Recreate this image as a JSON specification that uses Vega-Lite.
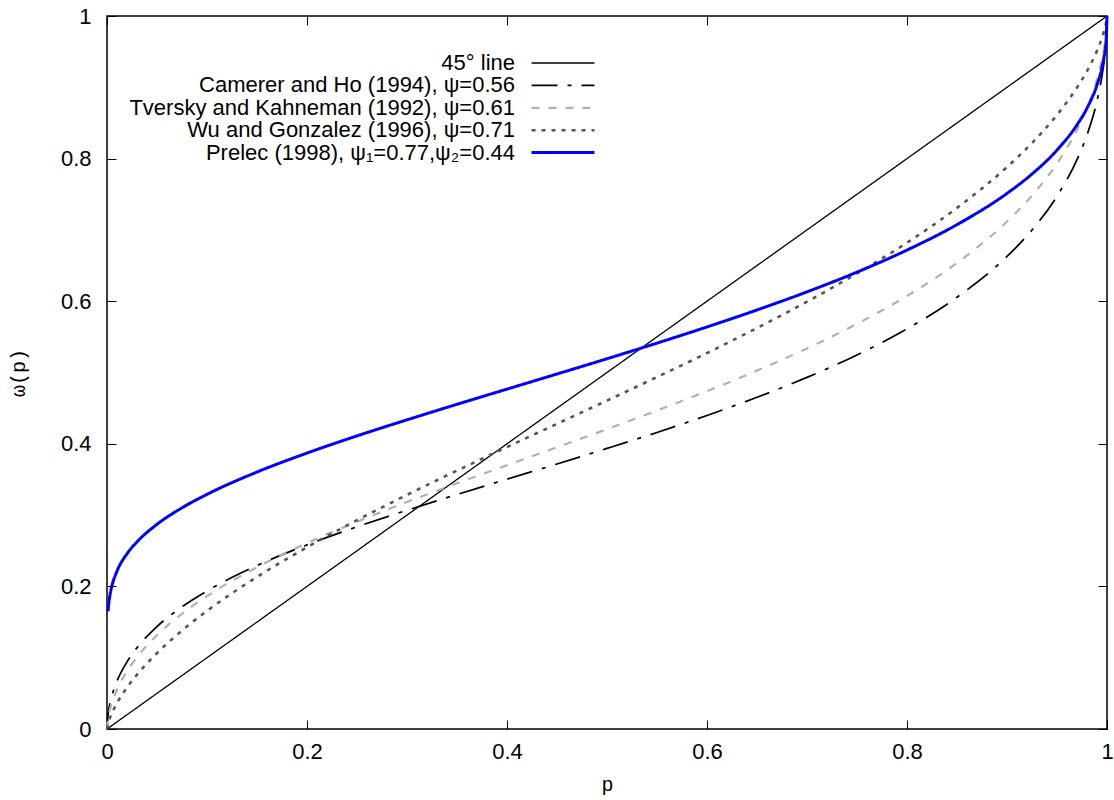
{
  "$schema": "https://vega.github.io/schema/vega-lite/v6.json",
  "width": 1000,
  "height": 713,
  "autosize": "none",
  "padding": {"left": 107, "top": 16, "right": 7, "bottom": 71},
  "background": "white",
  "config": {
    "view": {"stroke": "black", "strokeWidth": 1.5},
    "axis": {
      "domain": false, "grid": false, "tickColor": "black", "tickSize": -9, "tickWidth": 1, "labelFlush": false,
      "labelFont": "Liberation Sans", "labelFontSize": 22, "labelColor": "black",
      "titleFont": "Liberation Mono", "titleFontSize": 20, "titleFontWeight": "normal", "titleColor": "black"
    },
    "legend": {
      "orient": "none", "legendX": 445, "legendY": 36, "padding": 0,
      "symbolType": "M-6,0H6", "symbolSize": 110, "labelAlign": "right", "labelOffset": -59,
      "labelFont": "Liberation Sans", "labelFontSize": 22, "labelColor": "black", "labelLimit": 0,
      "rowPadding": 0.4, "title": null
    }
  },
  "data": {"values": [
    {"s": "45° line", "p": 0, "w": 0},
    {"s": "45° line", "p": 1, "w": 1},
    {"s": "Camerer and Ho (1994), ψ=0.56", "p": 0, "w": 0},
    {"s": "Camerer and Ho (1994), ψ=0.56", "p": 0.001, "w": 0.0202},
    {"s": "Camerer and Ho (1994), ψ=0.56", "p": 0.002, "w": 0.0292},
    {"s": "Camerer and Ho (1994), ψ=0.56", "p": 0.003, "w": 0.0362},
    {"s": "Camerer and Ho (1994), ψ=0.56", "p": 0.005, "w": 0.0473},
    {"s": "Camerer and Ho (1994), ψ=0.56", "p": 0.01, "w": 0.0672},
    {"s": "Camerer and Ho (1994), ψ=0.56", "p": 0.02, "w": 0.0942},
    {"s": "Camerer and Ho (1994), ψ=0.56", "p": 0.03, "w": 0.1140},
    {"s": "Camerer and Ho (1994), ψ=0.56", "p": 0.05, "w": 0.1437},
    {"s": "Camerer and Ho (1994), ψ=0.56", "p": 0.075, "w": 0.1714},
    {"s": "Camerer and Ho (1994), ψ=0.56", "p": 0.1, "w": 0.1936},
    {"s": "Camerer and Ho (1994), ψ=0.56", "p": 0.15, "w": 0.2292},
    {"s": "Camerer and Ho (1994), ψ=0.56", "p": 0.2, "w": 0.2582},
    {"s": "Camerer and Ho (1994), ψ=0.56", "p": 0.25, "w": 0.2836},
    {"s": "Camerer and Ho (1994), ψ=0.56", "p": 0.3, "w": 0.3068},
    {"s": "Camerer and Ho (1994), ψ=0.56", "p": 0.35, "w": 0.3289},
    {"s": "Camerer and Ho (1994), ψ=0.56", "p": 0.4, "w": 0.3504},
    {"s": "Camerer and Ho (1994), ψ=0.56", "p": 0.45, "w": 0.3717},
    {"s": "Camerer and Ho (1994), ψ=0.56", "p": 0.5, "w": 0.3935},
    {"s": "Camerer and Ho (1994), ψ=0.56", "p": 0.55, "w": 0.4159},
    {"s": "Camerer and Ho (1994), ψ=0.56", "p": 0.6, "w": 0.4397},
    {"s": "Camerer and Ho (1994), ψ=0.56", "p": 0.65, "w": 0.4652},
    {"s": "Camerer and Ho (1994), ψ=0.56", "p": 0.7, "w": 0.4931},
    {"s": "Camerer and Ho (1994), ψ=0.56", "p": 0.75, "w": 0.5246},
    {"s": "Camerer and Ho (1994), ψ=0.56", "p": 0.8, "w": 0.5612},
    {"s": "Camerer and Ho (1994), ψ=0.56", "p": 0.85, "w": 0.6055},
    {"s": "Camerer and Ho (1994), ψ=0.56", "p": 0.9, "w": 0.6628},
    {"s": "Camerer and Ho (1994), ψ=0.56", "p": 0.925, "w": 0.6999},
    {"s": "Camerer and Ho (1994), ψ=0.56", "p": 0.95, "w": 0.7472},
    {"s": "Camerer and Ho (1994), ψ=0.56", "p": 0.97, "w": 0.7986},
    {"s": "Camerer and Ho (1994), ψ=0.56", "p": 0.98, "w": 0.8332},
    {"s": "Camerer and Ho (1994), ψ=0.56", "p": 0.99, "w": 0.8809},
    {"s": "Camerer and Ho (1994), ψ=0.56", "p": 0.995, "w": 0.9161},
    {"s": "Camerer and Ho (1994), ψ=0.56", "p": 0.997, "w": 0.9356},
    {"s": "Camerer and Ho (1994), ψ=0.56", "p": 0.999, "w": 0.9642},
    {"s": "Camerer and Ho (1994), ψ=0.56", "p": 1, "w": 1},
    {"s": "Tversky and Kahneman (1992), ψ=0.61", "p": 0, "w": 0},
    {"s": "Tversky and Kahneman (1992), ψ=0.61", "p": 0.001, "w": 0.0145},
    {"s": "Tversky and Kahneman (1992), ψ=0.61", "p": 0.002, "w": 0.0218},
    {"s": "Tversky and Kahneman (1992), ψ=0.61", "p": 0.003, "w": 0.0277},
    {"s": "Tversky and Kahneman (1992), ψ=0.61", "p": 0.005, "w": 0.0372},
    {"s": "Tversky and Kahneman (1992), ψ=0.61", "p": 0.01, "w": 0.0553},
    {"s": "Tversky and Kahneman (1992), ψ=0.61", "p": 0.02, "w": 0.0811},
    {"s": "Tversky and Kahneman (1992), ψ=0.61", "p": 0.03, "w": 0.1008},
    {"s": "Tversky and Kahneman (1992), ψ=0.61", "p": 0.05, "w": 0.1316},
    {"s": "Tversky and Kahneman (1992), ψ=0.61", "p": 0.075, "w": 0.1616},
    {"s": "Tversky and Kahneman (1992), ψ=0.61", "p": 0.1, "w": 0.1863},
    {"s": "Tversky and Kahneman (1992), ψ=0.61", "p": 0.15, "w": 0.2269},
    {"s": "Tversky and Kahneman (1992), ψ=0.61", "p": 0.2, "w": 0.2608},
    {"s": "Tversky and Kahneman (1992), ψ=0.61", "p": 0.25, "w": 0.2907},
    {"s": "Tversky and Kahneman (1992), ψ=0.61", "p": 0.3, "w": 0.3184},
    {"s": "Tversky and Kahneman (1992), ψ=0.61", "p": 0.35, "w": 0.3446},
    {"s": "Tversky and Kahneman (1992), ψ=0.61", "p": 0.4, "w": 0.3700},
    {"s": "Tversky and Kahneman (1992), ψ=0.61", "p": 0.45, "w": 0.3952},
    {"s": "Tversky and Kahneman (1992), ψ=0.61", "p": 0.5, "w": 0.4206},
    {"s": "Tversky and Kahneman (1992), ψ=0.61", "p": 0.55, "w": 0.4467},
    {"s": "Tversky and Kahneman (1992), ψ=0.61", "p": 0.6, "w": 0.4739},
    {"s": "Tversky and Kahneman (1992), ψ=0.61", "p": 0.65, "w": 0.5027},
    {"s": "Tversky and Kahneman (1992), ψ=0.61", "p": 0.7, "w": 0.5338},
    {"s": "Tversky and Kahneman (1992), ψ=0.61", "p": 0.75, "w": 0.5683},
    {"s": "Tversky and Kahneman (1992), ψ=0.61", "p": 0.8, "w": 0.6074},
    {"s": "Tversky and Kahneman (1992), ψ=0.61", "p": 0.85, "w": 0.6537},
    {"s": "Tversky and Kahneman (1992), ψ=0.61", "p": 0.9, "w": 0.7117},
    {"s": "Tversky and Kahneman (1992), ψ=0.61", "p": 0.925, "w": 0.7481},
    {"s": "Tversky and Kahneman (1992), ψ=0.61", "p": 0.95, "w": 0.7932},
    {"s": "Tversky and Kahneman (1992), ψ=0.61", "p": 0.97, "w": 0.8404},
    {"s": "Tversky and Kahneman (1992), ψ=0.61", "p": 0.98, "w": 0.8710},
    {"s": "Tversky and Kahneman (1992), ψ=0.61", "p": 0.99, "w": 0.9116},
    {"s": "Tversky and Kahneman (1992), ψ=0.61", "p": 0.995, "w": 0.9402},
    {"s": "Tversky and Kahneman (1992), ψ=0.61", "p": 0.997, "w": 0.9554},
    {"s": "Tversky and Kahneman (1992), ψ=0.61", "p": 0.999, "w": 0.9766},
    {"s": "Tversky and Kahneman (1992), ψ=0.61", "p": 1, "w": 1},
    {"s": "Wu and Gonzalez (1996), ψ=0.71", "p": 0, "w": 0},
    {"s": "Wu and Gonzalez (1996), ψ=0.71", "p": 0.001, "w": 0.0073},
    {"s": "Wu and Gonzalez (1996), ψ=0.71", "p": 0.002, "w": 0.0119},
    {"s": "Wu and Gonzalez (1996), ψ=0.71", "p": 0.003, "w": 0.0159},
    {"s": "Wu and Gonzalez (1996), ψ=0.71", "p": 0.005, "w": 0.0226},
    {"s": "Wu and Gonzalez (1996), ψ=0.71", "p": 0.01, "w": 0.0364},
    {"s": "Wu and Gonzalez (1996), ψ=0.71", "p": 0.02, "w": 0.0582},
    {"s": "Wu and Gonzalez (1996), ψ=0.71", "p": 0.03, "w": 0.0762},
    {"s": "Wu and Gonzalez (1996), ψ=0.71", "p": 0.05, "w": 0.1065},
    {"s": "Wu and Gonzalez (1996), ψ=0.71", "p": 0.075, "w": 0.1381},
    {"s": "Wu and Gonzalez (1996), ψ=0.71", "p": 0.1, "w": 0.1656},
    {"s": "Wu and Gonzalez (1996), ψ=0.71", "p": 0.15, "w": 0.2133},
    {"s": "Wu and Gonzalez (1996), ψ=0.71", "p": 0.2, "w": 0.2549},
    {"s": "Wu and Gonzalez (1996), ψ=0.71", "p": 0.25, "w": 0.2929},
    {"s": "Wu and Gonzalez (1996), ψ=0.71", "p": 0.3, "w": 0.3284},
    {"s": "Wu and Gonzalez (1996), ψ=0.71", "p": 0.35, "w": 0.3624},
    {"s": "Wu and Gonzalez (1996), ψ=0.71", "p": 0.4, "w": 0.3954},
    {"s": "Wu and Gonzalez (1996), ψ=0.71", "p": 0.45, "w": 0.4280},
    {"s": "Wu and Gonzalez (1996), ψ=0.71", "p": 0.5, "w": 0.4606},
    {"s": "Wu and Gonzalez (1996), ψ=0.71", "p": 0.55, "w": 0.4936},
    {"s": "Wu and Gonzalez (1996), ψ=0.71", "p": 0.6, "w": 0.5273},
    {"s": "Wu and Gonzalez (1996), ψ=0.71", "p": 0.65, "w": 0.5624},
    {"s": "Wu and Gonzalez (1996), ψ=0.71", "p": 0.7, "w": 0.5993},
    {"s": "Wu and Gonzalez (1996), ψ=0.71", "p": 0.75, "w": 0.6389},
    {"s": "Wu and Gonzalez (1996), ψ=0.71", "p": 0.8, "w": 0.6821},
    {"s": "Wu and Gonzalez (1996), ψ=0.71", "p": 0.85, "w": 0.7309},
    {"s": "Wu and Gonzalez (1996), ψ=0.71", "p": 0.9, "w": 0.7881},
    {"s": "Wu and Gonzalez (1996), ψ=0.71", "p": 0.925, "w": 0.8219},
    {"s": "Wu and Gonzalez (1996), ψ=0.71", "p": 0.95, "w": 0.8613},
    {"s": "Wu and Gonzalez (1996), ψ=0.71", "p": 0.97, "w": 0.8997},
    {"s": "Wu and Gonzalez (1996), ψ=0.71", "p": 0.98, "w": 0.9228},
    {"s": "Wu and Gonzalez (1996), ψ=0.71", "p": 0.99, "w": 0.9512},
    {"s": "Wu and Gonzalez (1996), ψ=0.71", "p": 0.995, "w": 0.9695},
    {"s": "Wu and Gonzalez (1996), ψ=0.71", "p": 0.997, "w": 0.9785},
    {"s": "Wu and Gonzalez (1996), ψ=0.71", "p": 0.999, "w": 0.9899},
    {"s": "Wu and Gonzalez (1996), ψ=0.71", "p": 1, "w": 1},
    {"s": "Prelec (1998), ψ₁=0.77,ψ₂=0.44", "p": 0.001, "w": 0.1649},
    {"s": "Prelec (1998), ψ₁=0.77,ψ₂=0.44", "p": 0.002, "w": 0.1790},
    {"s": "Prelec (1998), ψ₁=0.77,ψ₂=0.44", "p": 0.003, "w": 0.1883},
    {"s": "Prelec (1998), ψ₁=0.77,ψ₂=0.44", "p": 0.005, "w": 0.2012},
    {"s": "Prelec (1998), ψ₁=0.77,ψ₂=0.44", "p": 0.01, "w": 0.2214},
    {"s": "Prelec (1998), ψ₁=0.77,ψ₂=0.44", "p": 0.02, "w": 0.2458},
    {"s": "Prelec (1998), ψ₁=0.77,ψ₂=0.44", "p": 0.03, "w": 0.2625},
    {"s": "Prelec (1998), ψ₁=0.77,ψ₂=0.44", "p": 0.05, "w": 0.2871},
    {"s": "Prelec (1998), ψ₁=0.77,ψ₂=0.44", "p": 0.075, "w": 0.3102},
    {"s": "Prelec (1998), ψ₁=0.77,ψ₂=0.44", "p": 0.1, "w": 0.3291},
    {"s": "Prelec (1998), ψ₁=0.77,ψ₂=0.44", "p": 0.15, "w": 0.3604},
    {"s": "Prelec (1998), ψ₁=0.77,ψ₂=0.44", "p": 0.2, "w": 0.3870},
    {"s": "Prelec (1998), ψ₁=0.77,ψ₂=0.44", "p": 0.25, "w": 0.4111},
    {"s": "Prelec (1998), ψ₁=0.77,ψ₂=0.44", "p": 0.3, "w": 0.4336},
    {"s": "Prelec (1998), ψ₁=0.77,ψ₂=0.44", "p": 0.35, "w": 0.4554},
    {"s": "Prelec (1998), ψ₁=0.77,ψ₂=0.44", "p": 0.4, "w": 0.4767},
    {"s": "Prelec (1998), ψ₁=0.77,ψ₂=0.44", "p": 0.45, "w": 0.4979},
    {"s": "Prelec (1998), ψ₁=0.77,ψ₂=0.44", "p": 0.5, "w": 0.5193},
    {"s": "Prelec (1998), ψ₁=0.77,ψ₂=0.44", "p": 0.55, "w": 0.5412},
    {"s": "Prelec (1998), ψ₁=0.77,ψ₂=0.44", "p": 0.6, "w": 0.5639},
    {"s": "Prelec (1998), ψ₁=0.77,ψ₂=0.44", "p": 0.65, "w": 0.5877},
    {"s": "Prelec (1998), ψ₁=0.77,ψ₂=0.44", "p": 0.7, "w": 0.6131},
    {"s": "Prelec (1998), ψ₁=0.77,ψ₂=0.44", "p": 0.75, "w": 0.6408},
    {"s": "Prelec (1998), ψ₁=0.77,ψ₂=0.44", "p": 0.8, "w": 0.6717},
    {"s": "Prelec (1998), ψ₁=0.77,ψ₂=0.44", "p": 0.85, "w": 0.7074},
    {"s": "Prelec (1998), ψ₁=0.77,ψ₂=0.44", "p": 0.9, "w": 0.7512},
    {"s": "Prelec (1998), ψ₁=0.77,ψ₂=0.44", "p": 0.925, "w": 0.7784},
    {"s": "Prelec (1998), ψ₁=0.77,ψ₂=0.44", "p": 0.95, "w": 0.8119},
    {"s": "Prelec (1998), ψ₁=0.77,ψ₂=0.44", "p": 0.97, "w": 0.8473},
    {"s": "Prelec (1998), ψ₁=0.77,ψ₂=0.44", "p": 0.98, "w": 0.8708},
    {"s": "Prelec (1998), ψ₁=0.77,ψ₂=0.44", "p": 0.99, "w": 0.9033},
    {"s": "Prelec (1998), ψ₁=0.77,ψ₂=0.44", "p": 0.995, "w": 0.9278},
    {"s": "Prelec (1998), ψ₁=0.77,ψ₂=0.44", "p": 0.997, "w": 0.9420},
    {"s": "Prelec (1998), ψ₁=0.77,ψ₂=0.44", "p": 0.999, "w": 0.9638},
    {"s": "Prelec (1998), ψ₁=0.77,ψ₂=0.44", "p": 1, "w": 1}
  ]},
  "layer": [
    {
      "mark": {"type": "line", "strokeCap": "butt", "strokeJoin": "round", "interpolate": "monotone"},
      "encoding": {
        "x": {"field": "p", "type": "quantitative", "scale": {"domain": [0, 1], "nice": false},
              "axis": {"orient": "bottom", "values": [0, 0.2, 0.4, 0.6, 0.8, 1], "format": "~g", "title": "p", "labelPadding": 21, "titlePadding": 12}},
        "y": {"field": "w", "type": "quantitative", "scale": {"domain": [0, 1], "nice": false},
              "axis": {"orient": "left", "values": [0, 0.2, 0.4, 0.6, 0.8, 1], "format": "~g", "title": "ω(p)", "labelPadding": 25, "titlePadding": 32}},
        "color": {"field": "s", "type": "nominal",
          "scale": {"domain": ["45° line", "Camerer and Ho (1994), ψ=0.56", "Tversky and Kahneman (1992), ψ=0.61", "Wu and Gonzalez (1996), ψ=0.71", "Prelec (1998), ψ₁=0.77,ψ₂=0.44"],
                    "range": ["#000000", "#000000", "#b0b0b0", "#555555", "#0000ff"]}},
        "strokeDash": {"field": "s", "type": "nominal",
          "scale": {"domain": ["45° line", "Camerer and Ho (1994), ψ=0.56", "Tversky and Kahneman (1992), ψ=0.61", "Wu and Gonzalez (1996), ψ=0.71", "Prelec (1998), ψ₁=0.77,ψ₂=0.44"],
                    "range": [[1, 0], [26, 10, 4, 10], [8, 9], [4, 6], [1, 0]]}},
        "strokeWidth": {"field": "s", "type": "nominal",
          "scale": {"domain": ["45° line", "Camerer and Ho (1994), ψ=0.56", "Tversky and Kahneman (1992), ψ=0.61", "Wu and Gonzalez (1996), ψ=0.71", "Prelec (1998), ψ₁=0.77,ψ₂=0.44"],
                    "range": [1.3, 3, 3, 3, 2.6]}}
      }
    },
    {
      "mark": {"type": "line", "strokeOpacity": 0},
      "encoding": {
        "x": {"field": "p", "type": "quantitative",
              "axis": {"orient": "top", "values": [0, 0.2, 0.4, 0.6, 0.8, 1], "labels": false, "title": null}},
        "y": {"field": "w", "type": "quantitative",
              "axis": {"orient": "right", "values": [0, 0.2, 0.4, 0.6, 0.8, 1], "labels": false, "title": null}},
        "detail": {"field": "s", "type": "nominal"}
      }
    }
  ],
  "resolve": {"axis": {"x": "independent", "y": "independent"}}
}
